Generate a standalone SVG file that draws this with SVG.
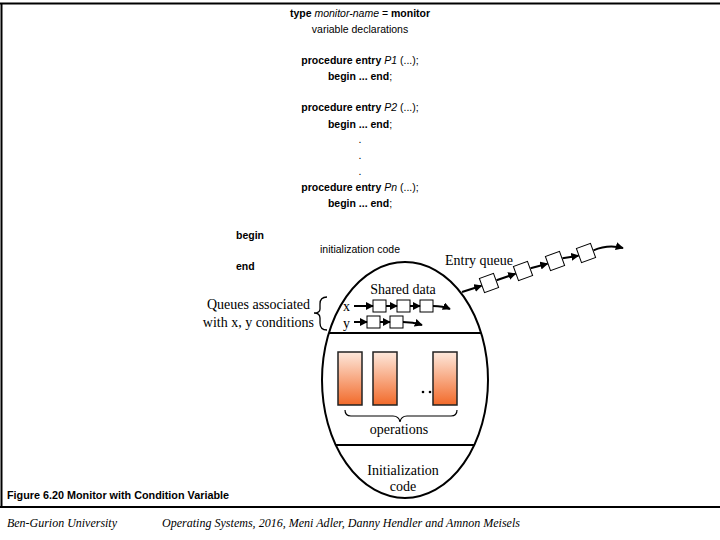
<svg xmlns="http://www.w3.org/2000/svg" width="720" height="540" viewBox="0 0 720 540">
<style>
.s{font-family:"Liberation Sans",Arial,sans-serif;font-size:10.5px;fill:#000}
.b{font-weight:bold}
.i{font-style:italic}
.t{font-family:"Liberation Serif","Times New Roman",serif;font-size:14px;fill:#000}
.f{font-family:"Liberation Serif","Times New Roman",serif;font-size:12px;font-style:italic;fill:#000}
.ln{stroke:#000;stroke-width:2;fill:none}
.q{stroke:#000;stroke-width:2;fill:none}
.bx{stroke:#000;stroke-width:1;fill:#fff}
.op{stroke:#222;stroke-width:1.5;fill:url(#g)}
</style>
<defs>
<linearGradient id="g" x1="0" y1="0" x2="0" y2="1">
<stop offset="0" stop-color="#fde8dc"/>
<stop offset="1" stop-color="#f26a2a"/>
</linearGradient>
<marker id="a" viewBox="0 0 10 10" refX="9" refY="5" markerWidth="4" markerHeight="4" orient="auto" markerUnits="strokeWidth">
<path d="M0,0 L10,5 L0,10 z" fill="#000"/>
</marker>
</defs>
<g id="frame">
<line x1="0" y1="3.5" x2="720" y2="3.5" class="ln"/>
<line x1="1.5" y1="3" x2="1.5" y2="507" class="ln"/>
<line x1="0" y1="507" x2="720" y2="507" class="ln"/>
</g>
<g id="code">
<text x="360" y="17" class="s" text-anchor="middle"><tspan class="b">type</tspan> <tspan class="i">monitor-name</tspan> = <tspan class="b">monitor</tspan></text>
<text x="360" y="33" class="s" text-anchor="middle">variable declarations</text>
<text x="360" y="64" class="s" text-anchor="middle"><tspan class="b">procedure entry</tspan> <tspan class="i">P1</tspan> (...);</text>
<text x="360" y="80" class="s" text-anchor="middle"><tspan class="b">begin ... end</tspan>;</text>
<text x="360" y="111" class="s" text-anchor="middle"><tspan class="b">procedure entry</tspan> <tspan class="i">P2</tspan> (...);</text>
<text x="360" y="128" class="s" text-anchor="middle"><tspan class="b">begin ... end</tspan>;</text>
<text x="360" y="143" class="s" text-anchor="middle">.</text>
<text x="360" y="159" class="s" text-anchor="middle">.</text>
<text x="360" y="175" class="s" text-anchor="middle">.</text>
<text x="360" y="191" class="s" text-anchor="middle"><tspan class="b">procedure entry</tspan> <tspan class="i">Pn</tspan> (...);</text>
<text x="360" y="207" class="s" text-anchor="middle"><tspan class="b">begin ... end</tspan>;</text>
<text x="236" y="239" class="s b">begin</text>
<text x="360" y="253" class="s" text-anchor="middle">initialization code</text>
<text x="236" y="270" class="s b">end</text>
</g>
<g id="monitor">
<ellipse cx="405" cy="380" rx="83" ry="118" class="ln"/>
<line x1="329" y1="333" x2="481" y2="333" class="ln"/>
<line x1="336" y1="445" x2="474" y2="445" class="ln"/>
<text x="403" y="294" class="t" text-anchor="middle">Shared data</text>
<text x="399" y="434" class="t" text-anchor="middle">operations</text>
<text x="403" y="475" class="t" text-anchor="middle">Initialization</text>
<text x="403" y="491" class="t" text-anchor="middle">code</text>
</g>
<g id="operations">
<rect x="338" y="352" width="24" height="53" class="op"/>
<rect x="373" y="352" width="24" height="53" class="op"/>
<rect x="433" y="352" width="24" height="53" class="op"/>
<circle cx="423" cy="392" r="1.3" fill="#000"/>
<circle cx="430" cy="392" r="1.3" fill="#000"/>
<path d="M345,410 Q345,416 351,416 L393,416 Q399,416 400,422 Q401,416 407,416 L451,416 Q457,416 457,410" stroke="#000" stroke-width="1.2" fill="none"/>
</g>
<g id="condition-queues">
<text x="310" y="309" class="t" text-anchor="end">Queues  associated</text>
<text x="314" y="327" class="t" text-anchor="end">with x, y conditions</text>
<path d="M327,297 Q320,297 320,304 L320,309 Q320,313 314,313 Q320,313 320,318 L320,323 Q320,330 327,330" stroke="#000" stroke-width="1.3" fill="none"/>
<text x="343" y="311" class="t">x</text>
<text x="343" y="328" class="t">y</text>
</g>
<g id="entry-queue">
<text x="445" y="265" class="t">Entry queue</text>
<rect x="-7.5" y="-7.5" width="15" height="15" class="bx" transform="translate(489,283) rotate(-20)"/>
<rect x="-7.5" y="-7.5" width="15" height="15" class="bx" transform="translate(523,271) rotate(-20)"/>
<rect x="-7.5" y="-7.5" width="15" height="15" class="bx" transform="translate(555,261) rotate(-20)"/>
<rect x="-7.5" y="-7.5" width="15" height="15" class="bx" transform="translate(586,253) rotate(-20)"/>
</g>
<g id="queue-boxes">
<rect x="373" y="300" width="13" height="12" class="bx" stroke-width="1.5"/>
<rect x="397" y="300" width="13" height="12" class="bx" stroke-width="1.5"/>
<rect x="420" y="300" width="13" height="12" class="bx" stroke-width="1.5"/>
<rect x="367" y="316" width="13" height="12" class="bx" stroke-width="1.5"/>
<rect x="390" y="316" width="13" height="12" class="bx" stroke-width="1.5"/>
</g>
<g id="connectors">
<line x1="354" y1="306" x2="373" y2="306" class="q" marker-end="url(#a)"/>
<line x1="386" y1="306" x2="397" y2="306" class="q" marker-end="url(#a)"/>
<line x1="410" y1="306" x2="420" y2="306" class="q" marker-end="url(#a)"/>
<path d="M433,306 Q443,306 450,309" class="q" marker-end="url(#a)"/>
<line x1="354" y1="322" x2="367" y2="322" class="q" marker-end="url(#a)"/>
<line x1="380" y1="322" x2="390" y2="322" class="q" marker-end="url(#a)"/>
<path d="M403,322 Q413,322 422,325" class="q" marker-end="url(#a)"/>
<line x1="462" y1="292" x2="481.5" y2="285.7" class="q" marker-end="url(#a)"/>
<line x1="496.5" y1="280.3" x2="515.5" y2="273.7" class="q" marker-end="url(#a)"/>
<line x1="530.5" y1="268.3" x2="547.5" y2="263.7" class="q" marker-end="url(#a)"/>
<line x1="562.5" y1="258.3" x2="578.5" y2="255.7" class="q" marker-end="url(#a)"/>
<path d="M593.5,250.3 Q608,244 623,248" class="q" marker-end="url(#a)"/>
</g>
<g id="caption">
<text x="7" y="499" class="s b" textLength="222" lengthAdjust="spacingAndGlyphs">Figure 6.20  Monitor with Condition Variable</text>
</g>
<g id="footer">
<text x="7" y="527" class="f" textLength="110" lengthAdjust="spacingAndGlyphs">Ben-Gurion University</text>
<text x="162" y="527" class="f" textLength="358" lengthAdjust="spacingAndGlyphs">Operating Systems, 2016, Meni Adler, Danny Hendler and Amnon Meisels</text>
</g>
</svg>
